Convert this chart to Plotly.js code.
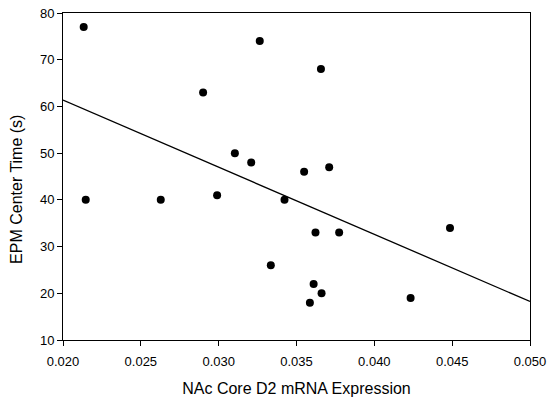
<!DOCTYPE html>
<html>
<head>
<meta charset="utf-8">
<script src="https://cdn.plot.ly/plotly-3.0.1.min.js"></script>
<style>html,body{margin:0;padding:0;background:#fff;}#chart{width:548px;height:397px;}</style>
</head>
<body>
<div id="chart"></div>
<script>
// Data
const d2Expression = [0.02133, 0.02146, 0.02628, 0.0290, 0.0299, 0.03104, 0.03209, 0.03264, 0.03335, 0.03423,
                      0.03549, 0.03586, 0.0361, 0.03622, 0.03657, 0.03661, 0.0371, 0.03774, 0.04233, 0.04486];
const centerTime = [77, 40, 40, 63, 41, 50, 48, 74, 26, 40,
                    46, 18, 22, 33, 68, 20, 47, 33, 19, 34];
const xTicks = [0.020, 0.025, 0.030, 0.035, 0.040, 0.045, 0.050];
const yTicks = [10, 20, 30, 40, 50, 60, 70, 80];
const xRange = [0.020, 0.050];
const yRange = [10, 80];
const xTitle = 'NAc Core D2 mRNA Expression';
const yTitle = 'EPM Center Time (s)';

// Least-squares regression line computed from the data
const n = d2Expression.length;
const mx = d2Expression.reduce((a, b) => a + b, 0) / n;
const my = centerTime.reduce((a, b) => a + b, 0) / n;
let sxy = 0, sxx = 0;
for (let i = 0; i < n; i++) {
  sxy += (d2Expression[i] - mx) * (centerTime[i] - my);
  sxx += (d2Expression[i] - mx) ** 2;
}
const slope = sxy / sxx;
const intercept = my - slope * mx;
const fitX = xRange.slice();
const fitY = fitX.map(x => intercept + slope * x);

const font = {family: 'Liberation Sans, Arial, sans-serif', color: '#000'};

const traces = [
  {x: fitX, y: fitY, mode: 'lines', type: 'scatter',
   line: {color: '#000', width: 1.3}, hoverinfo: 'skip', showlegend: false},
  {x: d2Expression, y: centerTime, mode: 'markers', type: 'scatter',
   marker: {color: '#000', size: 8}, showlegend: false, cliponaxis: false}
];

const layout = {
  width: 548, height: 397,
  margin: {l: 63, r: 18, t: 13, b: 57},
  paper_bgcolor: '#fff', plot_bgcolor: '#fff',
  font: Object.assign({size: 13}, font),
  showlegend: false,
  xaxis: {
    range: xRange, tickvals: xTicks, ticktext: xTicks.map(v => v.toFixed(3)),
    showgrid: false, zeroline: false, showline: true, linecolor: '#000', linewidth: 1,
    mirror: true, ticks: 'outside', ticklen: 5, tickcolor: '#000', tickwidth: 1,
    ticklabelstandoff: 4,
    tickfont: Object.assign({size: 13}, font),
    title: {text: xTitle, font: Object.assign({size: 16}, font), standoff: 16},
    automargin: false
  },
  yaxis: {
    range: yRange, tickvals: yTicks,
    showgrid: false, zeroline: false, showline: true, linecolor: '#000', linewidth: 1,
    mirror: true, ticks: 'outside', ticklen: 5, tickcolor: '#000', tickwidth: 1,
    tickfont: Object.assign({size: 13}, font),
    automargin: false
  },
  annotations: [{
    text: yTitle, textangle: -90, showarrow: false,
    xref: 'paper', yref: 'paper', x: 0, y: 0.459, xanchor: 'center', yanchor: 'middle',
    xshift: -46, font: Object.assign({size: 16}, font)
  }]
};

Plotly.newPlot('chart', traces, layout, {displayModeBar: false, staticPlot: true});
</script>
</body>
</html>
